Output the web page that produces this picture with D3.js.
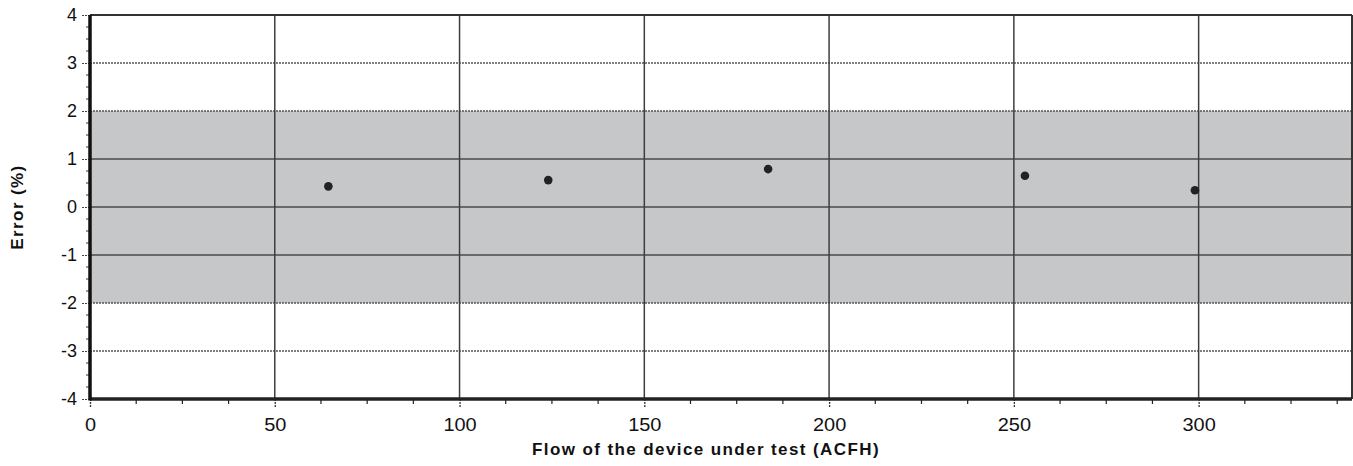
<!DOCTYPE html>
<html>
<head>
<meta charset="utf-8">
<script src="https://cdn.jsdelivr.net/npm/d3@7"></script>
<style>
  html, body { margin: 0; padding: 0; background: #fff; }
  svg { display: block; }
  text { font-family: "Liberation Sans", Arial, sans-serif; fill: #111; }
</style>
</head>
<body>
<svg id="chart" width="1353" height="466"></svg>
<script>
// Measured points: flow (ACFH) and error (%)
const flow = [64.5, 124, 183.5, 253, 299];
const errorPct = [0.43, 0.56, 0.79, 0.65, 0.35];

// Axis settings
const xDomain = [0, 341.5];
const yDomain = [-4, 4];
const xTicks = [0, 50, 100, 150, 200, 250, 300];
const yTicks = [-4, -3, -2, -1, 0, 1, 2, 3, 4];
const toleranceBand = [-2, 2];

const xLabel = "Flow of the device under test (ACFH)";
const yLabel = "Error (%)";

const svg = d3.select("#chart");
const margin = { left: 90, top: 15, right: 1, bottom: 67 };
const W = 1353, H = 466;

const x = d3.scaleLinear().domain(xDomain).range([margin.left, W - margin.right]);
const y = d3.scaleLinear().domain(yDomain).range([H - margin.bottom, margin.top]);

const g = svg.append("g");

// Tolerance band
g.append("rect")
  .attr("x", x(xDomain[0]))
  .attr("width", x(xDomain[1]) - x(xDomain[0]))
  .attr("y", y(toleranceBand[1]))
  .attr("height", y(toleranceBand[0]) - y(toleranceBand[1]))
  .attr("fill", "#c6c7c9");

// Horizontal gridlines
g.selectAll("line.hgrid")
  .data(yTicks.filter(v => v > yDomain[0] && v < yDomain[1]))
  .join("line")
  .attr("class", "hgrid")
  .attr("x1", x(xDomain[0])).attr("x2", x(xDomain[1]))
  .attr("y1", d => y(d)).attr("y2", d => y(d))
  .attr("stroke", d => (d > toleranceBand[0] && d < toleranceBand[1]) ? "#4a4a4a" : "#555")
  .attr("stroke-width", 1.4)
  .attr("stroke-dasharray", d => (d > toleranceBand[0] && d < toleranceBand[1]) ? null : "2,1");

// Vertical gridlines
g.selectAll("line.vgrid")
  .data(xTicks.filter(v => v > xDomain[0]))
  .join("line")
  .attr("class", "vgrid")
  .attr("x1", d => x(d)).attr("x2", d => x(d))
  .attr("y1", y(yDomain[1])).attr("y2", y(yDomain[0]))
  .attr("stroke", "#3e3e3e")
  .attr("stroke-width", 1.5);

// Top and right frame
g.append("line")
  .attr("x1", x(xDomain[0])).attr("x2", x(xDomain[1]))
  .attr("y1", y(yDomain[1])).attr("y2", y(yDomain[1]))
  .attr("stroke", "#333").attr("stroke-width", 2);
g.append("line")
  .attr("x1", x(xDomain[1])).attr("x2", x(xDomain[1]))
  .attr("y1", y(yDomain[1])).attr("y2", y(yDomain[0]))
  .attr("stroke", "#333").attr("stroke-width", 2);

// X axis with minor ticks every 12.5
const xMinor = d3.range(0, xDomain[1] + 0.01, 12.5).filter(v => v % 50 !== 0);
g.selectAll("line.xminor")
  .data(xMinor)
  .join("line")
  .attr("x1", d => x(d)).attr("x2", d => x(d))
  .attr("y1", y(yDomain[0])).attr("y2", y(yDomain[0]) + 5)
  .attr("stroke", "#222").attr("stroke-width", 1.2);

const xAxis = d3.axisBottom(x).tickValues(xTicks).tickSize(8).tickPadding(11).tickFormat(d3.format("d"));
const xg = g.append("g").attr("transform", `translate(0,${y(yDomain[0])})`).call(xAxis);
xg.select(".domain").remove();
xg.selectAll(".tick line").attr("stroke", "#333").attr("stroke-width", 1.3).attr("stroke-dasharray", "2,1");
xg.selectAll(".tick text")
  .attr("font-size", 19).attr("fill", "#111")
  .attr("transform", "scale(1.05,1)");

// Y axis with minor ticks every 0.25
const yMinor = d3.range(yDomain[0], yDomain[1] + 0.001, 0.25).filter(v => Math.abs(v % 1) > 0.001);
g.selectAll("line.yminor")
  .data(yMinor)
  .join("line")
  .attr("x1", x(xDomain[0]) - 4).attr("x2", x(xDomain[0]))
  .attr("y1", d => y(d)).attr("y2", d => y(d))
  .attr("stroke", "#333").attr("stroke-width", 1);

const yAxis = d3.axisLeft(y).tickValues(yTicks).tickSize(9).tickPadding(4).tickFormat(d3.format("d"));
const yg = g.append("g").attr("transform", `translate(${x(xDomain[0])},0)`).call(yAxis);
yg.select(".domain").remove();
yg.selectAll(".tick line").attr("stroke", "#444").attr("stroke-width", 1.2).attr("stroke-dasharray", "2,1");
yg.selectAll(".tick text")
  .attr("font-size", 18).attr("fill", "#111")
  .attr("dy", "0.3em")
  .text(d => d < 0 ? "-" + Math.abs(d) : d);

// Heavy axis lines
g.append("line")
  .attr("x1", x(xDomain[0])).attr("x2", x(xDomain[1]))
  .attr("y1", y(yDomain[0])).attr("y2", y(yDomain[0]))
  .attr("stroke", "#222").attr("stroke-width", 3.5);
g.append("line")
  .attr("x1", x(xDomain[0])).attr("x2", x(xDomain[0]))
  .attr("y1", y(yDomain[1])).attr("y2", y(yDomain[0]) + 1.5)
  .attr("stroke", "#111").attr("stroke-width", 3.5);

// Data points
g.selectAll("circle.pt")
  .data(flow.map((f, i) => ({ f, e: errorPct[i] })))
  .join("circle")
  .attr("class", "pt")
  .attr("cx", d => x(d.f))
  .attr("cy", d => y(d.e))
  .attr("r", 4.3)
  .attr("fill", "#222");

// Axis titles
svg.append("text")
  .attr("x", 706).attr("y", 455)
  .attr("text-anchor", "middle")
  .attr("font-size", 17).attr("font-weight", "bold")
  .attr("letter-spacing", 1.4)
  .text(xLabel);

svg.append("text")
  .attr("transform", `translate(23,${y(0)}) rotate(-90)`)
  .attr("text-anchor", "middle")
  .attr("font-size", 17).attr("font-weight", "bold")
  .attr("letter-spacing", 1.4)
  .text(yLabel);
</script>
</body>
</html>
